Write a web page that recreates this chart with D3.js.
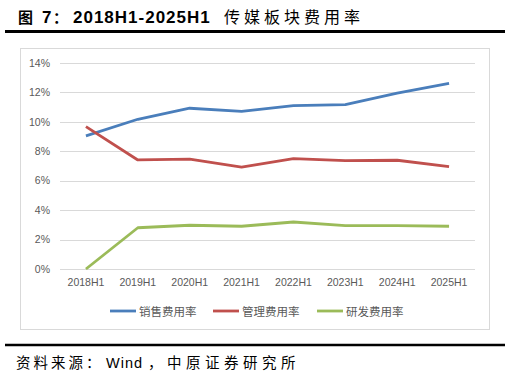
<!DOCTYPE html>
<html><head><meta charset="utf-8">
<script src="https://cdn.jsdelivr.net/npm/d3@7"></script>
<style>
html,body{margin:0;padding:0;background:#fff;}
svg{display:block;}
</style></head>
<body>
<svg id="c" width="510" height="379"></svg>
<script>
const categories = ["2018H1","2019H1","2020H1","2021H1","2022H1","2023H1","2024H1","2025H1"];
const salesRate = [9.03, 10.16, 10.91, 10.70, 11.09, 11.15, 11.93, 12.60];
const adminRate = [9.66, 7.40, 7.45, 6.92, 7.49, 7.35, 7.38, 6.95];
const rdRate    = [0.00, 2.80, 2.97, 2.90, 3.19, 2.94, 2.94, 2.90];
const seriesNames = ["销售费用率","管理费用率","研发费用率"];
const yTicks = [0,2,4,6,8,10,12,14];

const colors = ["#4A7EBB","#C0504D","#9BBB59"];
const series = [salesRate, adminRate, rdRate];

const svg = d3.select("#c");
const cjk = "'Noto Sans CJK SC', 'Liberation Sans', sans-serif";
const latin = "'Liberation Sans', Arial, 'Noto Sans CJK SC', sans-serif";

// Title
const title = svg.append("text").attr("y",23)
  .attr("font-size",17).attr("font-weight","bold").attr("fill","#000")
  .attr("font-family",latin);
title.append("tspan").attr("x",18).attr("font-family",cjk).attr("font-size",15).text("图");
title.append("tspan").attr("x",42).text("7");
title.append("tspan").attr("x",53).attr("font-family",cjk).attr("font-size",15).text("：");
title.append("tspan").attr("x",73).attr("letter-spacing",1).text("2018H1-2025H1");
title.append("tspan").attr("x",224).attr("font-family",cjk).attr("font-size",16)
  .attr("font-weight","normal").attr("letter-spacing",4).text("传媒板块费用率");

svg.append("line").attr("x1",5).attr("x2",505).attr("y1",31.5).attr("y2",31.5)
  .attr("stroke","#000").attr("stroke-width",3);

// Chart box
svg.append("rect").attr("x",20.5).attr("y",48.5).attr("width",469).attr("height",281)
  .attr("fill","none").attr("stroke","#d9d9d9").attr("stroke-width",1);

const x = d3.scaleBand().domain(categories).range([60,475]);
const y = d3.scaleLinear().domain([0,14]).range([269,62.7]);

// gridlines
svg.append("g").selectAll("line").data(yTicks).join("line")
  .attr("x1",60).attr("x2",475)
  .attr("y1",d=>Math.round(y(d))+0.5).attr("y2",d=>Math.round(y(d))+0.5)
  .attr("stroke","#d9d9d9").attr("stroke-width",1);

// y axis labels
const yAxis = d3.axisLeft(y).tickValues(yTicks).tickFormat(d=>d+"%").tickSize(0).tickPadding(0);
const gy = svg.append("g").attr("transform","translate(50,0)").call(yAxis);
gy.select(".domain").remove();
gy.selectAll("text").attr("font-size",10.5).attr("font-family",latin).attr("fill","#595959");

// x axis labels
const xAxis = d3.axisBottom(x).tickSize(0).tickPadding(0);
const gx = svg.append("g").attr("transform","translate(0,279)").call(xAxis);
gx.select(".domain").remove();
gx.selectAll("text").attr("font-size",10.5).attr("font-family",latin).attr("fill","#595959");

// lines
const line = d3.line().x((d,i)=>x(categories[i])+x.bandwidth()/2).y(d=>y(d));
series.forEach((s,k)=>{
  svg.append("path").datum(s).attr("d",line).attr("fill","none")
    .attr("stroke",colors[k]).attr("stroke-width",2.8).attr("stroke-linejoin","round");
});

// legend
const legendX = [110,213,317];
seriesNames.forEach((n,k)=>{
  svg.append("line").attr("x1",legendX[k]).attr("x2",legendX[k]+26).attr("y1",311).attr("y2",311)
    .attr("stroke",colors[k]).attr("stroke-width",2.8);
  svg.append("text").attr("x",legendX[k]+29).attr("y",315.5).attr("font-size",11.5)
    .attr("font-family",cjk).attr("fill","#595959").text(n);
});

// bottom rule & source
svg.append("line").attr("x1",5).attr("x2",505).attr("y1",345).attr("y2",345)
  .attr("stroke","#000").attr("stroke-width",2.5);
const src = svg.append("text").attr("y",368).attr("font-size",14.5)
  .attr("font-family",cjk).attr("fill","#000");
src.append("tspan").attr("x",16).attr("letter-spacing",3).text("资料来源：");
src.append("tspan").attr("x",106).attr("font-family",latin).attr("letter-spacing",1).text("Wind");
src.append("tspan").attr("x",148).attr("letter-spacing",4.5).text("，中原证券研究所");
</script>
</body></html>
